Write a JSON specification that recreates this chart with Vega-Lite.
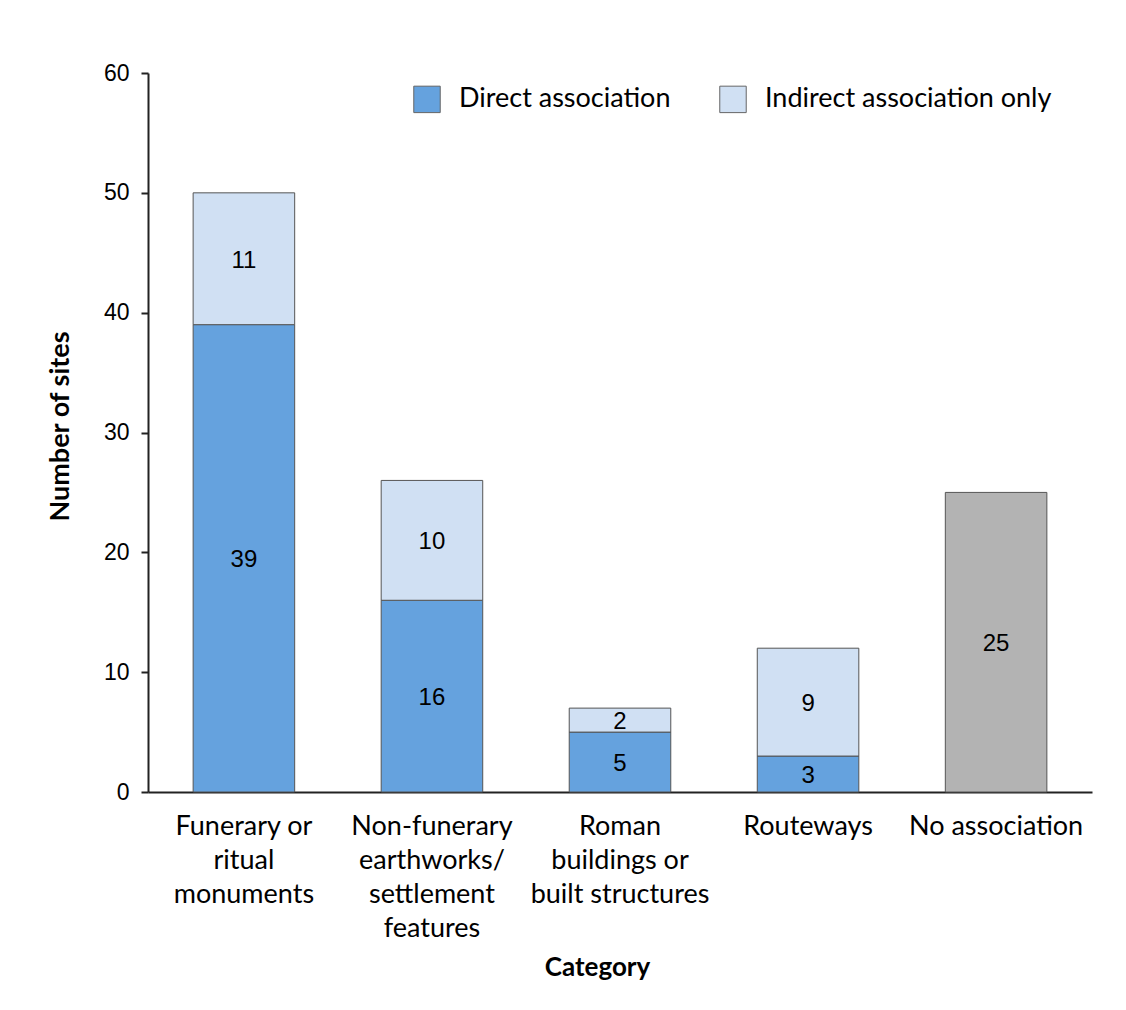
{
  "$schema": "https://vega.github.io/schema/vega-lite/v6.json",
  "width": 944,
  "height": 719,
  "autosize": {"type": "none"},
  "padding": {"left": 148, "top": 73, "right": 34, "bottom": 218},
  "background": "white",
  "config": {"view": {"stroke": null}},
  "data": {"values": [
    {"cat": "Funerary or ritual monuments", "type": "Direct association", "n": 39},
    {"cat": "Funerary or ritual monuments", "type": "Indirect association only", "n": 11},
    {"cat": "Non-funerary earthworks/ settlement features", "type": "Direct association", "n": 16},
    {"cat": "Non-funerary earthworks/ settlement features", "type": "Indirect association only", "n": 10},
    {"cat": "Roman buildings or built structures", "type": "Direct association", "n": 5},
    {"cat": "Roman buildings or built structures", "type": "Indirect association only", "n": 2},
    {"cat": "Routeways", "type": "Direct association", "n": 3},
    {"cat": "Routeways", "type": "Indirect association only", "n": 9},
    {"cat": "No association", "type": "No association", "n": 25}
  ]},
  "encoding": {
    "x": {
      "field": "cat", "type": "nominal", "sort": null,
      "scale": {"paddingInner": 0.46, "paddingOuter": 0.24},
      "axis": {
        "title": "Category",
        "titleFont": "Lato", "titleFontSize": 26, "titleFontWeight": "bold", "titleColor": "black",
        "titleX": 449, "titleY": 175, "titleBaseline": "middle",
        "labelAngle": 0, "labelFont": "Lato", "labelFontSize": 27, "labelColor": "black",
        "labelLineHeight": 34, "labelPadding": 34, "labelBaseline": "middle",
        "ticks": false, "domainColor": "#222", "domainWidth": 2,
        "labelExpr": "datum.value == 'Funerary or ritual monuments' ? ['Funerary or', 'ritual', 'monuments'] : datum.value == 'Non-funerary earthworks/ settlement features' ? ['Non-funerary', 'earthworks/', 'settlement', 'features'] : datum.value == 'Roman buildings or built structures' ? ['Roman', 'buildings or', 'built structures'] : datum.value"
      }
    }
  },
  "layer": [
    {
      "mark": {"type": "bar", "stroke": "#555555", "strokeWidth": 1},
      "encoding": {
        "y": {
          "field": "n", "type": "quantitative", "stack": "zero",
          "scale": {"domain": [0, 60]},
          "axis": {
            "title": "Number of sites",
            "titleFont": "Lato", "titleFontSize": 27, "titleFontWeight": "bold", "titleColor": "black",
            "titleX": -88, "titleY": 353, "titleBaseline": "middle", "titleAngle": -90, "titleAlign": "center",
            "values": [0, 10, 20, 30, 40, 50, 60],
            "labelFont": "Liberation Sans", "labelFontSize": 23, "labelColor": "black", "labelPadding": 12,
            "tickColor": "#222", "tickSize": 7, "tickWidth": 2,
            "domainColor": "#222", "domainWidth": 2, "grid": false
          }
        },
        "order": {"field": "type", "sort": "ascending"},
        "color": {
          "field": "type", "type": "nominal",
          "scale": {
            "domain": ["Direct association", "Indirect association only", "No association"],
            "range": ["#65A2DE", "#D0E0F3", "#B3B3B3"]
          },
          "legend": {
            "title": null,
            "values": ["Direct association", "Indirect association only"],
            "orient": "none", "legendX": 265, "legendY": 12,
            "direction": "horizontal",
            "symbolType": "square", "symbolSize": 700, "symbolStrokeColor": "#666", "symbolStrokeWidth": 1,
            "labelFont": "Lato", "labelFontSize": 27, "labelColor": "black", "labelOffset": 18,
            "columnPadding": 46, "labelLimit": 400
          }
        }
      }
    },
    {
      "transform": [
        {"stack": "n", "groupby": ["cat"], "sort": [{"field": "type", "order": "ascending"}], "as": ["y0", "y1"]},
        {"calculate": "(datum.y0 + datum.y1) / 2", "as": "mid"}
      ],
      "mark": {"type": "text", "font": "Liberation Sans", "fontSize": 24, "color": "black", "baseline": "middle", "dy": 2},
      "encoding": {
        "y": {"field": "mid", "type": "quantitative"},
        "text": {"field": "n", "type": "quantitative"}
      }
    }
  ]
}
